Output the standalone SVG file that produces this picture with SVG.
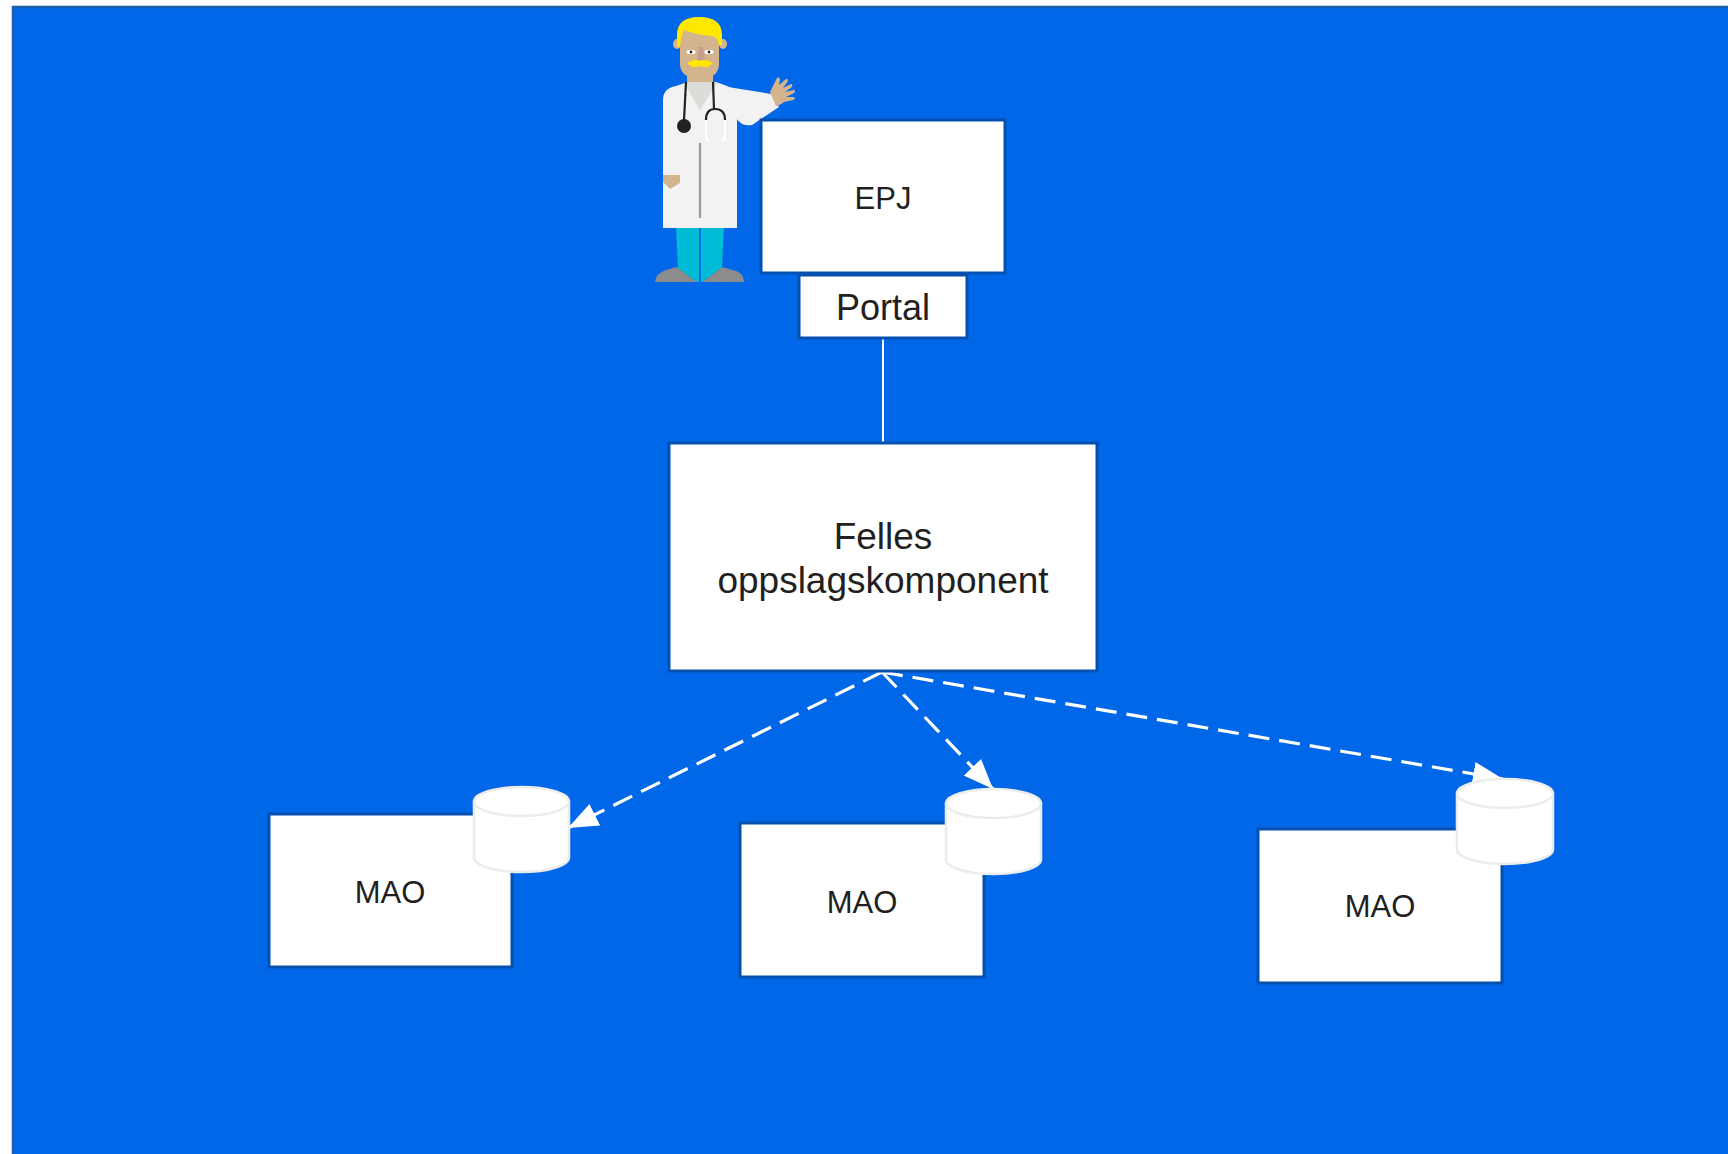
<svg xmlns="http://www.w3.org/2000/svg" width="1728" height="1154" viewBox="0 0 1728 1154">
  <style>
    .box { fill: #ffffff; stroke: #0450ae; stroke-width: 3; }
    .label { font-family: "Liberation Sans", Arial, sans-serif; fill: #231f20; text-anchor: middle; }
    .db { fill: #ffffff; stroke: #ececec; stroke-width: 2.5; }
    .link { fill: none; stroke: #ffffff; stroke-width: 2; }
    .flow { fill: none; stroke: #ffffff; stroke-width: 3.2; stroke-dasharray: 21 10; }
  </style>
  <defs>
    <marker id="arrowhead" markerUnits="userSpaceOnUse" markerWidth="32" markerHeight="26" refX="30" refY="12" orient="auto">
      <path d="M0,0 L30,12 L0,24 Z" fill="#ffffff"/>
    </marker>
  </defs>

  <!-- canvas -->
  <rect x="0" y="0" width="1728" height="1154" fill="#ffffff"/>
  <rect x="13" y="7" width="1740" height="1160" fill="#0068e8" stroke="#1d5cab" stroke-width="2.5"/>

  <!-- clinician figure -->
  <g id="doctor">
    <!-- shoes -->
    <path d="M655,282 Q656,273 666,270 L677,267 L697,282 Z" fill="#8c8c8c"/>
    <path d="M702,282 L722,267 L736,271 Q744,274 744,282 Z" fill="#8c8c8c"/>
    <!-- trousers -->
    <path d="M676,226 L699,226 L699,282 L697,282 L678,268 Z" fill="#00bcd4"/>
    <path d="M701,226 L724,226 L722,267 L702,282 L701,282 Z" fill="#00bcd4"/>
    <!-- raised arm sleeve -->
    <path d="M728,87 L771,94 L779,107 L752,125 Q742,127 736,118 Z" fill="#f2f2f2"/>
    <!-- waving hand -->
    <path d="M770,92 L774,84 L777,78 Q779,76 780,79 L779,85 L786,79 Q788,78 788,81 L783,88 L791,84 Q793,84 792,87 L785,92 L794,90 Q796,91 794,93 L786,97 L794,97 Q796,99 793,100 L784,102 Q779,106 776,106 Z" fill="#d4b48c"/>
    <!-- coat -->
    <path d="M663,228 L663,100 Q663,88 676,86 L688,82 L716,82 L727,86 Q737,89 737,100 L737,228 Z" fill="#f2f2f2"/>
    <!-- neck and collar -->
    <rect x="687" y="70" width="26" height="14" fill="#d4b48c"/>
    <path d="M687,82 L713,82 L717,83 L700,110 L684,83 Z" fill="#dcdcd8"/>
    <!-- coat seam -->
    <line x1="700" y1="143" x2="700" y2="218" stroke="#9a9a9a" stroke-width="2.2"/>
    <!-- hand in pocket -->
    <path d="M663,175 L680,175 L680,183 L670,189 L663,182 Z" fill="#d4b48c"/>
    <!-- face -->
    <ellipse cx="677" cy="44" rx="4" ry="5" fill="#d4b48c"/>
    <ellipse cx="723" cy="44" rx="4" ry="5" fill="#d4b48c"/>
    <path d="M680,30 L719,30 L719,64 Q719,78 700,79 Q680,78 680,64 Z" fill="#d4b48c"/>
    <!-- hair -->
    <path d="M677,47 L677,35 Q677,17 699,17 Q722,17 722,35 L722,45 L719,45 Q718,37 712,36 Q696,35 684,30 Q681,36 680,47 Z" fill="#ffe800"/>
    <!-- eyes -->
    <ellipse cx="691" cy="52" rx="4.5" ry="2.2" fill="#ffffff"/>
    <ellipse cx="709" cy="52" rx="4.5" ry="2.2" fill="#ffffff"/>
    <circle cx="691" cy="52" r="1.4" fill="#222222"/>
    <circle cx="709" cy="52" r="1.4" fill="#222222"/>
    <!-- nose -->
    <path d="M699,47 L703,47 L705,60 L697,60 Z" fill="#c49e86"/>
    <!-- moustache -->
    <path d="M687,63 Q694,58 700,61 Q706,58 713,63 Q708,69 700,66 Q692,69 687,63 Z" fill="#ffe800"/>
    <!-- stethoscope -->
    <path d="M686,82 L684,120" stroke="#222222" stroke-width="2.2" fill="none"/>
    <circle cx="684" cy="126" r="7" fill="#222222"/>
    <path d="M713,82 L714,109" stroke="#222222" stroke-width="2.2" fill="none"/>
    <path d="M706,120 Q706,109 715,109 Q725,109 725,120" stroke="#222222" stroke-width="2.2" fill="none"/>
    <path d="M706,120 L706,137 Q706,140 709,140 M725,120 L725,137 Q725,140 722,140" stroke="#ffffff" stroke-width="2" fill="none"/>
  </g>

  <!-- connectors -->
  <g id="connectors">
    <line class="link" x1="883" y1="338" x2="883" y2="443"/>
    <line class="flow" x1="882" y1="672" x2="568" y2="828" marker-end="url(#arrowhead)"/>
    <line class="flow" x1="882" y1="672" x2="993" y2="789" marker-end="url(#arrowhead)"/>
    <line class="flow" x1="882" y1="672" x2="1503" y2="779" marker-end="url(#arrowhead)"/>
  </g>

  <g id="epj">
    <rect class="box" x="761" y="120" width="244" height="153"/>
    <text class="label" x="883" y="209" font-size="31">EPJ</text>
  </g>

  <g id="portal">
    <rect class="box" x="799" y="275" width="168" height="63"/>
    <text class="label" x="883" y="320" font-size="36">Portal</text>
  </g>

  <g id="felles">
    <rect class="box" x="669" y="443" width="428" height="228"/>
    <text class="label" x="883" y="549" font-size="37">Felles</text>
    <text class="label" x="883" y="593" font-size="37">oppslagskomponent</text>
  </g>

  <g id="mao-1">
    <rect class="box" x="269" y="814" width="243" height="153"/>
    <text class="label" x="390" y="903" font-size="31">MAO</text>
    <path class="db" d="M474,801.5 L474,857.5 A47.5,14.5 0 0 0 569,857.5 L569,801.5 A47.5,14.5 0 0 0 474,801.5 Z"/>
    <path class="db" d="M474,801.5 A47.5,14.5 0 0 0 569,801.5" fill="none"/>
  </g>

  <g id="mao-2">
    <rect class="box" x="740" y="823" width="244" height="154"/>
    <text class="label" x="862" y="913" font-size="31">MAO</text>
    <path class="db" d="M946,803.5 L946,859.5 A47.5,14.5 0 0 0 1041,859.5 L1041,803.5 A47.5,14.5 0 0 0 946,803.5 Z"/>
    <path class="db" d="M946,803.5 A47.5,14.5 0 0 0 1041,803.5" fill="none"/>
  </g>

  <g id="mao-3">
    <rect class="box" x="1258" y="829" width="244" height="154"/>
    <text class="label" x="1380" y="917" font-size="31">MAO</text>
    <path class="db" d="M1457,793.5 L1457,849.5 A48,14.5 0 0 0 1553,849.5 L1553,793.5 A48,14.5 0 0 0 1457,793.5 Z"/>
    <path class="db" d="M1457,793.5 A48,14.5 0 0 0 1553,793.5" fill="none"/>
  </g>
</svg>
